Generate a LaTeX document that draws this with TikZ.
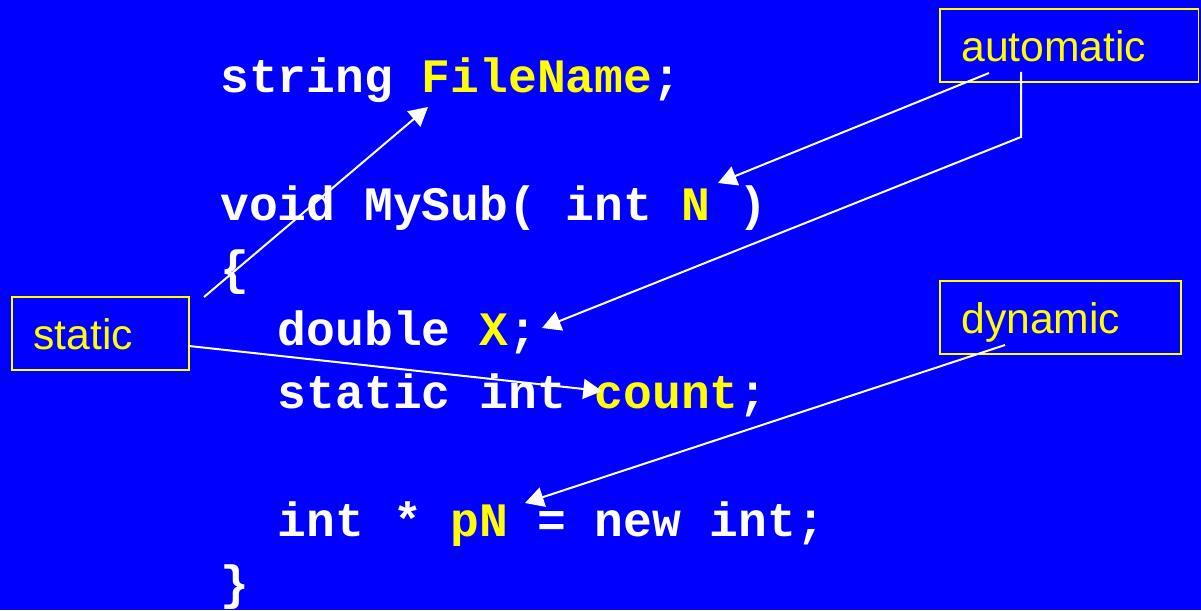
\documentclass[tikz,border=0pt]{standalone}
\usepackage{fontspec}
\setmainfont{Liberation Sans}
\setmonofont{Liberation Mono}
\usetikzlibrary{arrows.meta}
\definecolor{bg}{RGB}{0,0,255}
\definecolor{hl}{RGB}{255,255,0}
\begin{document}
\begin{tikzpicture}[x=0.75pt,y=-0.75pt,
 code/.style={anchor=base west, inner sep=0pt, text=white, font=\ttfamily\bfseries\fontsize{36}{36}\selectfont},
 box/.style={draw=hl, line width=1.1pt, text=hl, font=\fontsize{32}{32}\selectfont, anchor=north west, align=left, outer sep=0pt, inner xsep=16pt, inner ysep=0pt, text height=24pt, text depth=0pt, minimum height=54.75pt},
 arr/.style={draw=white, line width=1.5pt, -{Triangle[length=14pt,width=15pt]}}]
\fill[bg] (0,0) rectangle (1201,610);
\useasboundingbox (0,0) rectangle (1201,610);
% code
\node[code] (l1) at (220,92) {string \textcolor{hl}{FileName};};
\node[code] (l2) at (220,220) {void MySub( int \textcolor{hl}{N} )};
\node[code] (l3) at (220,284) {\{};
\node[code] (l4) at (277.6,345) {double \textcolor{hl}{X};};
\node[code] (l5) at (277.6,408) {static int \textcolor{hl}{count};};
\node[code] (l6) at (277.6,536) {int * \textcolor{hl}{pN} = new int;};
\node[code] (l7) at (220,599) {\}};
% boxes
\node[box, text width=162pt] (auto) at (940,9) {automatic};
\node[box, text width=100.75pt] (stat) at (12,297) {static};
\node[box, text width=148.75pt] (dyn) at (940,281) {dynamic};
% arrow points
\coordinate (s1) at (204,297);
\coordinate (s2) at (189,346);
\coordinate (tFile) at (428,107);
\coordinate (tCount) at (602,391);
\coordinate (a1) at (989,73);
\coordinate (a2) at (1021,72);
\coordinate (a2b) at (1021,137);
\coordinate (tN) at (718,183);
\coordinate (tX) at (542,328);
\coordinate (d1) at (1005,345);
\coordinate (tpN) at (525,503);
% arrows
\draw[arr] (s1) -- (tFile);
\draw[arr] (s2) -- (tCount);
\draw[arr] (a1) -- (tN);
\draw[arr] (a2) -- (a2b) -- (tX);
\draw[arr] (d1) -- (tpN);
\end{tikzpicture}
\end{document}
